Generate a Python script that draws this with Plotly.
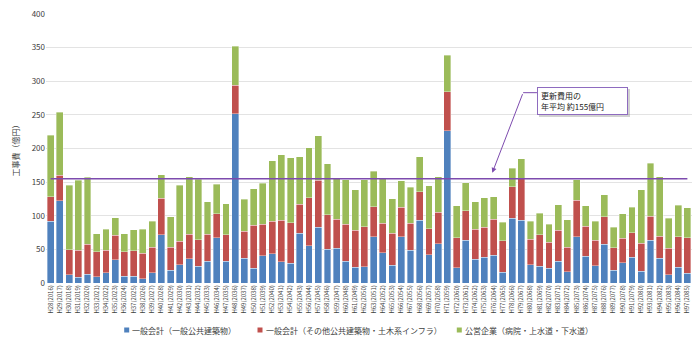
import plotly.graph_objects as go

years_h = list(range(28, 98))
categories = [f"H{h}({h + 1988})" for h in years_h]

# cumulative tops, converted to segment values
blue_top = [91.5, 122, 12, 8.5, 13, 9, 15, 34.6, 10.4, 10, 6, 15, 71.7, 19.3, 27, 36, 24.7, 32.6, 67, 32.6,
            252, 36.6, 21.8, 40.6, 43.5, 31.7, 29.7, 74, 55.4, 82.6, 50.4, 51.4, 32, 23.7, 24.2, 68.7, 45, 26.7,
            69, 48.5, 93, 42, 58.4, 226.5, 22.7, 63.8, 35.6, 38.6, 41, 16.3, 96, 93, 27.2, 24.7, 21.8, 32, 16.8,
            69, 40, 25.7, 57.4, 18.8, 30.2, 38.6, 17.3, 63.8, 36.6, 12.4, 23.2, 14.8]
red_top = [128.6, 160, 49.5, 48.5, 58, 46.5, 49, 70.7, 46.5, 48, 44.5, 53.4, 126, 53, 62, 72.7, 64.3, 72.2, 103, 71.7,
           294, 76.7, 86, 87.5, 91.5, 93, 89.5, 117, 126.6, 153, 101.4, 94.5, 87, 78.6, 83.6, 113.7, 89, 73.7,
           112.8, 89, 136, 81, 105.3, 284.4, 67.3, 107.8, 79.6, 82.6, 94.5, 62.8, 143.4, 155.8, 64.8, 71.7, 60.8,
           78.6, 53.4, 123, 84.6, 63.3, 98.4, 52.4, 66.3, 74.7, 59.3, 99.4, 69.2, 51.4, 68.7, 67.3]
green_top = [219.6, 253.7, 145, 153, 157, 73, 79.6, 97, 73, 79, 80, 92, 161, 98.4, 145, 157.8, 154.3, 121, 147, 118,
             352, 124.6, 140.5, 148, 182, 190.4, 186.4, 187.4, 201.3, 218.6, 177.5, 155.8, 153.8, 139, 153.8, 166,
             156.8, 125.6, 151.8, 142.4, 188, 144.4, 158.3, 338.3, 115.2, 149.4, 121, 126.6, 128, 90.5, 170.6, 184.5,
             92, 103.9, 87.5, 116.2, 94, 153.8, 114.7, 92, 131, 83, 103, 112.8, 139, 178, 158.3, 96.4, 115.7, 111.8]

general_buildings = blue_top
general_infra = [r - b for r, b in zip(red_top, blue_top)]
public_enterprise = [g - r for g, r in zip(green_top, red_top)]

series_names = ["一般会計（一般公共建築物）", "一般会計（その他公共建築物・土木系インフラ）", "公営企業（病院・上水道・下水道）"]
series_colors = ["#4F81BD", "#C0504D", "#9BBB59"]
average_value = 155
y_ticks = [0, 50, 100, 150, 200, 250, 300, 350, 400]

JP = "Noto Sans CJK JP, Noto Sans, sans-serif"
TXT = "#404040"
PURPLE = "#7D4BAE"

# plot-area geometry in pixels
L, R, T, B = 46, 8, 14, 60
W, H = 700, 343
PW, PH = W - L - R, H - T - B


def px_x(px):
    return (px - L) / PW


def px_y(py):
    return (H - B - py) / PH


fig = go.Figure()
for name, vals, col in zip(series_names, [general_buildings, general_infra, public_enterprise], series_colors):
    fig.add_trace(go.Bar(x=categories, y=vals, name=name,
                         marker=dict(color=col, line=dict(color="rgba(255,255,255,0.6)", width=0.6))))

fig.add_shape(type="line", xref="x", yref="y", x0=0, x1=len(categories) - 1, y0=average_value, y1=average_value,
              line=dict(color=PURPLE, width=1.6))

# callout leader (kinked) and arrow
fig.add_shape(type="line", xref="x", yref="y", x0=51.2, x1=52.7, y0=283, y1=283,
              line=dict(color=PURPLE, width=1))
fig.add_annotation(x=47.86, y=164, ax=51.2, ay=283, axref="x", ayref="y", xref="x", yref="y",
                   text="", showarrow=True, arrowhead=2, arrowsize=1, arrowwidth=1, arrowcolor=PURPLE)
# shadow of callout box
fig.add_shape(type="rect", xref="paper", yref="paper", x0=px_x(539), x1=px_x(630), y0=px_y(117), y1=px_y(89),
              line=dict(width=0), fillcolor="rgba(0,0,0,0.18)", layer="above")
fig.add_annotation(x=px_x(537), y=px_y(87), xref="paper", yref="paper", xanchor="left", yanchor="top",
                   text="更新費用の<br>年平均 約155億円", showarrow=False, align="left", valign="middle",
                   font=dict(family=JP, size=8, color="#222"), bgcolor="white",
                   bordercolor="#8E6BBF", borderwidth=1, borderpad=3, width=83, height=20)

# legend drawn as small squares + text
legend_sq_x = [126.7, 260, 459.3]
legend_txt_x = [130, 263.5, 463]
legend_y = 330
for name, col, sx, tx in zip(series_names, series_colors, legend_sq_x, legend_txt_x):
    fig.add_shape(type="rect", xref="paper", yref="paper", x0=px_x(sx - 2.5), x1=px_x(sx + 2.5),
                  y0=px_y(legend_y + 2.5), y1=px_y(legend_y - 2.5), line=dict(width=0), fillcolor=col)
    fig.add_annotation(x=px_x(tx), y=px_y(legend_y), xref="paper", yref="paper", xanchor="left", yanchor="middle",
                       text=name, showarrow=False, font=dict(family=JP, size=8, color=TXT))

fig.update_layout(
    barmode="stack", bargap=0.25,
    width=W, height=H,
    margin=dict(l=L, r=R, t=T, b=B),
    paper_bgcolor="white", plot_bgcolor="white",
    font=dict(family=JP, color=TXT),
    showlegend=False,
    xaxis=dict(type="category", tickangle=-90, tickfont=dict(size=6, family=JP, color=TXT),
               showgrid=False, showline=False, ticks="", range=[-0.5, len(categories) - 0.5]),
    yaxis=dict(range=[0, 400], tickvals=y_ticks, tickfont=dict(size=8, family=JP, color=TXT),
               showgrid=True, gridcolor="#E3E3E3", gridwidth=1, zeroline=False,
               title=dict(text="工事費（億円）", font=dict(size=8, family=JP, color=TXT), standoff=10)),
)

fig.write_html("out.html")
